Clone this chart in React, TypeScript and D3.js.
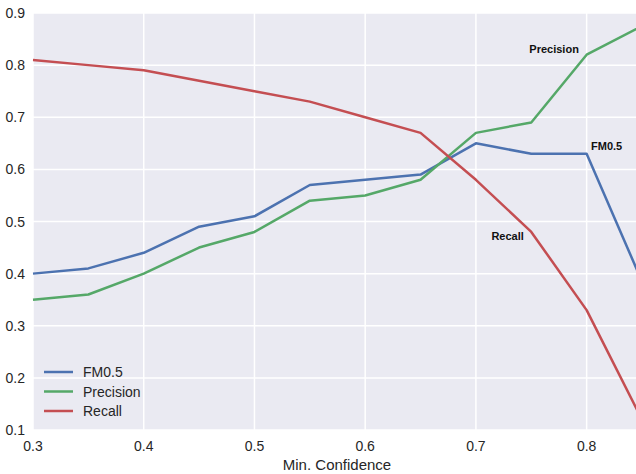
import React, { useRef, useEffect } from "react";
import * as d3 from "d3";

const confidence = [0.3, 0.35, 0.4, 0.45, 0.5, 0.55, 0.6, 0.65, 0.7, 0.75, 0.8, 0.85];
const fm05 = [0.4, 0.41, 0.44, 0.49, 0.51, 0.57, 0.58, 0.59, 0.65, 0.63, 0.63, 0.385];
const precision = [0.35, 0.36, 0.4, 0.45, 0.48, 0.54, 0.55, 0.58, 0.67, 0.69, 0.82, 0.875];
const recall = [0.81, 0.8, 0.79, 0.77, 0.75, 0.73, 0.7, 0.67, 0.58, 0.48, 0.33, 0.12];
const xTicks = [0.3, 0.4, 0.5, 0.6, 0.7, 0.8];
const yTicks = [0.1, 0.2, 0.3, 0.4, 0.5, 0.6, 0.7, 0.8, 0.9];

const seriesNames = ["FM0.5", "Precision", "Recall"];
const seriesValues = [fm05, precision, recall];
const colors = ["#4C72B0", "#55A868", "#C44E52"];

// text annotations placed in data coordinates
const notes = [
  { t: "Precision", x: 0.793, v: 0.83, anchor: "end" },
  { t: "FM0.5", x: 0.804, v: 0.645, anchor: "start" },
  { t: "Recall", x: 0.714, v: 0.472, anchor: "start" },
];

const App = () => {
  const svgRef = useRef(null);
  const width = 636;
  const height = 474;

  useEffect(() => {
    var svg = d3.select(svgRef.current);
    svg.selectAll("*").remove();

    var x = d3.scaleLinear().domain([0.3, 0.85]).range([33, 642]);
    var y = d3.scaleLinear().domain([0.1, 0.9]).range([430, 13]);
    var font = "'Liberation Sans', Arial, sans-serif";

    // background
    svg
      .append("rect")
      .attr("x", x(0.3))
      .attr("y", y(0.9))
      .attr("width", x(0.85) - x(0.3))
      .attr("height", y(0.1) - y(0.9))
      .attr("fill", "#EAEAF2");

    // grid
    svg
      .selectAll(".xgrid")
      .data(xTicks)
      .enter()
      .append("line")
      .attr("x1", (d) => x(d))
      .attr("x2", (d) => x(d))
      .attr("y1", y(0.9))
      .attr("y2", y(0.1))
      .attr("stroke", "white")
      .attr("stroke-width", 1.5);
    svg
      .selectAll(".ygrid")
      .data(yTicks)
      .enter()
      .append("line")
      .attr("x1", x(0.3))
      .attr("x2", x(0.85))
      .attr("y1", (d) => y(d))
      .attr("y2", (d) => y(d))
      .attr("stroke", "white")
      .attr("stroke-width", 1.5);

    // tick labels
    svg
      .selectAll(".xlab")
      .data(xTicks)
      .enter()
      .append("text")
      .attr("x", (d) => x(d))
      .attr("y", 451)
      .attr("text-anchor", "middle")
      .attr("font-family", font)
      .attr("font-size", 14)
      .attr("fill", "#262626")
      .text((d) => d.toFixed(1));
    svg
      .selectAll(".ylab")
      .data(yTicks)
      .enter()
      .append("text")
      .attr("x", 25)
      .attr("y", (d) => y(d) + 5)
      .attr("text-anchor", "end")
      .attr("font-family", font)
      .attr("font-size", 14)
      .attr("fill", "#262626")
      .text((d) => d.toFixed(1));

    svg
      .append("text")
      .attr("x", 337)
      .attr("y", 470)
      .attr("text-anchor", "middle")
      .attr("font-family", font)
      .attr("font-size", 15)
      .attr("fill", "#262626")
      .text("Min. Confidence");

    // lines
    var line = d3
      .line()
      .x((d) => x(d[0]))
      .y((d) => y(d[1]));
    seriesValues.forEach((vals, i) => {
      svg
        .append("path")
        .datum(confidence.map((c, j) => [c, vals[j]]))
        .attr("d", line)
        .attr("fill", "none")
        .attr("stroke", colors[i])
        .attr("stroke-width", 2.5)
        .attr("stroke-linejoin", "round");
    });

    // annotations
    svg
      .selectAll(".note")
      .data(notes)
      .enter()
      .append("text")
      .attr("x", (d) => x(d.x))
      .attr("y", (d) => y(d.v) + 4)
      .attr("text-anchor", (d) => d.anchor)
      .attr("font-family", font)
      .attr("font-size", 11)
      .attr("font-weight", "bold")
      .attr("fill", "#111")
      .text((d) => d.t);

    // legend
    seriesNames.forEach((name, i) => {
      var ly = 372 + i * 19.5;
      svg
        .append("line")
        .attr("x1", 44)
        .attr("x2", 73)
        .attr("y1", ly)
        .attr("y2", ly)
        .attr("stroke", colors[i])
        .attr("stroke-width", 2.5);
      svg
        .append("text")
        .attr("x", 83)
        .attr("y", ly + 5)
        .attr("font-family", font)
        .attr("font-size", 14)
        .attr("fill", "#262626")
        .text(name);
    });
  }, []);

  return (
    <svg
      ref={svgRef}
      width={width}
      height={height}
      style={{ position: "fixed", top: 0, left: 0, background: "white" }}
    ></svg>
  );
};

export default App;
